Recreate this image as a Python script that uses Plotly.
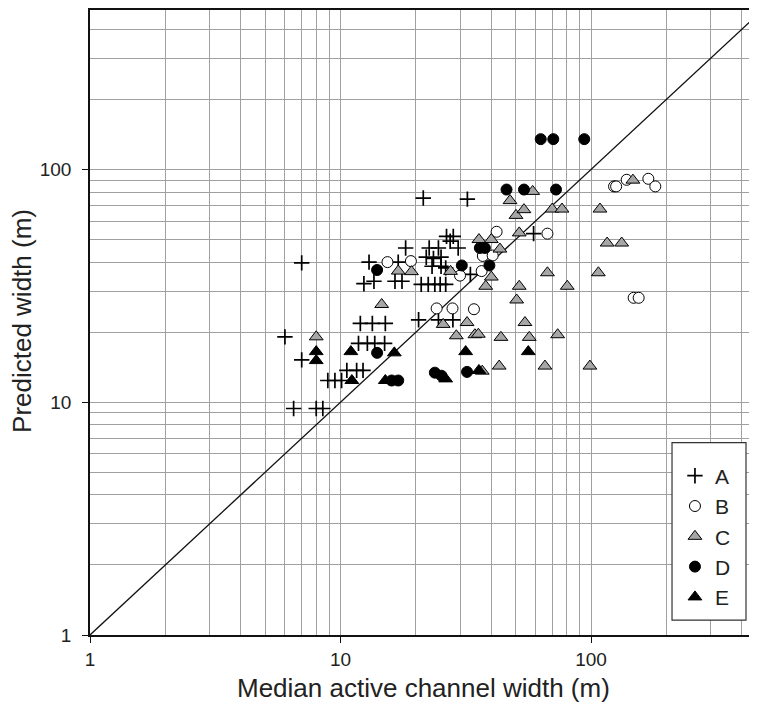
import plotly.graph_objects as go

# ---- data ----
a_x = [6.0, 7.0, 7.0, 6.5, 8.0, 8.5, 8.9, 9.5, 10.1, 10.6, 11.6, 12.3, 11.8, 12.8, 13.7, 15.0,
       12.0, 13.4, 15.1, 12.4, 13.6, 16.5, 17.6, 13.0, 17.0, 18.2, 20.5, 24.6, 28.1, 21.4, 32.1,
       22.6, 24.6, 26.5, 28.2, 27.4, 29.5, 22.0, 23.5, 25.2, 23.2, 25.2, 26.3, 21.0, 22.4, 23.8,
       25.0, 26.3, 33.0, 59.0]
a_y = [19.1, 39.7, 15.2, 9.4, 9.4, 9.4, 12.4, 12.4, 12.4, 13.7, 13.7, 13.7, 17.9, 17.9, 17.9, 17.9,
       21.8, 21.8, 21.8, 32.3, 33.1, 33.1, 33.1, 40.0, 40.0, 46.0, 22.6, 22.6, 22.6, 75.4, 74.6,
       46.0, 46.0, 51.6, 51.6, 49.2, 46.0, 42.0, 41.5, 42.0, 38.4, 38.4, 37.8, 32.1, 32.1, 32.1,
       32.1, 32.1, 35.4, 53.0]

b_x = [15.4, 19.1, 24.2, 28.0, 34.1, 30.0, 36.6, 37.0, 40.5, 42.0, 67.0, 123.6, 126.0, 138.8,
       169.4, 180.6, 148.0, 155.0]
b_y = [40.0, 40.4, 25.3, 25.3, 25.1, 35.0, 36.6, 42.5, 42.7, 54.0, 53.0, 84.6, 84.6, 90.3,
       91.2, 84.6, 28.1, 28.1]

c_x = [8.0, 14.6, 17.0, 19.2, 25.7, 32.0, 29.0, 34.4, 35.5, 27.5, 35.7, 40.0, 43.3, 40.0, 38.0,
       51.7, 50.5, 80.4, 54.5, 43.7, 56.7, 73.6, 43.0, 65.5, 99.0, 36.8, 47.5, 58.5, 50.2, 54.0,
       51.7, 70.0, 76.6, 108.6, 147.0, 116.0, 132.6, 67.0, 107.0]
c_y = [19.1, 26.3, 36.6, 36.4, 21.6, 22.0, 19.3, 19.5, 19.6, 36.5, 50.0, 50.0, 45.5, 34.5, 31.5,
       31.5, 27.5, 31.5, 22.0, 19.0, 19.0, 19.5, 14.3, 14.3, 14.3, 13.6, 73.5, 80.5, 63.5, 67.2,
       53.4, 67.6, 67.6, 67.6, 90.0, 48.3, 48.3, 36.0, 36.0]

d_x = [14.0, 14.0, 16.0, 17.0, 23.8, 25.3, 32.0, 30.5, 39.3, 36.0, 37.7, 46.0, 54.0, 72.5,
       63.0, 70.7, 94.0]
d_y = [37.0, 16.3, 12.4, 12.4, 13.4, 13.0, 13.5, 38.7, 38.7, 46.0, 46.0, 82.0, 82.0, 82.0,
       135.0, 135.0, 135.0]

e_x = [8.0, 8.0, 11.0, 11.1, 15.1, 16.4, 26.3, 31.6, 35.7, 56.2]
e_y = [16.5, 15.1, 16.5, 12.4, 12.4, 16.3, 12.6, 16.5, 13.7, 16.5]

line_x = [1, 500]
line_y = [1, 500]

x_major = [1, 10, 100]
y_major = [1, 10, 100]
minor_vals = [2, 3, 4, 5, 6, 7, 8, 9, 20, 30, 40, 50, 60, 70, 80, 90, 200, 300, 400]

FONT = "Liberation Sans, Arial, sans-serif"
GRID = "#a0a0a0"
TXT = "#222222"

fig = go.Figure()
fig.add_trace(go.Scatter(x=line_x, y=line_y, mode="lines",
                         line=dict(color="#111111", width=1.3), showlegend=False,
                         hoverinfo="skip"))
fig.add_trace(go.Scatter(x=a_x, y=a_y, mode="markers", name="A",
                         marker=dict(symbol="cross-thin", size=11, color="black",
                                     line=dict(color="black", width=1.7))))
fig.add_trace(go.Scatter(x=b_x, y=b_y, mode="markers", name="B",
                         marker=dict(symbol="circle", size=11, color="white",
                                     line=dict(color="black", width=1))))
fig.add_trace(go.Scatter(x=c_x, y=c_y, mode="markers", name="C",
                         marker=dict(symbol="triangle-up", size=12, color="#a6a6a6",
                                     line=dict(color="black", width=1))))
fig.add_trace(go.Scatter(x=d_x, y=d_y, mode="markers", name="D",
                         marker=dict(symbol="circle", size=11, color="black",
                                     line=dict(color="black", width=1))))
fig.add_trace(go.Scatter(x=e_x, y=e_y, mode="markers", name="E",
                         marker=dict(symbol="triangle-up", size=12, color="black",
                                     line=dict(color="black", width=1))))

axis_common = dict(
    type="log", showgrid=True, gridcolor=GRID, gridwidth=1,
    showline=True, linecolor="#111111", linewidth=1.5,
    ticks="outside", ticklen=6, tickcolor="#111111", tickwidth=1.2,
    tickfont=dict(family=FONT, size=19, color=TXT),
    zeroline=False,
    minor=dict(tickvals=minor_vals, showgrid=True, gridcolor=GRID, gridwidth=1, ticks=""),
)

fig.update_xaxes(**axis_common, range=[0, 2.6627], tickvals=x_major,
                 ticktext=[str(v) for v in x_major], mirror=True, ticklabelstandoff=0)
fig.update_yaxes(**axis_common, range=[0, 2.6852], tickvals=y_major,
                 ticktext=[str(v) for v in y_major], mirror=False, ticklabelstandoff=7)

fig.update_layout(
    width=749, height=698,
    margin=dict(l=82, r=0, t=0, b=71),
    paper_bgcolor="white", plot_bgcolor="white",
    font=dict(family=FONT, color=TXT),
    legend=dict(x=0.877, y=0.2871, xanchor="left", yanchor="top",
                bgcolor="rgba(0,0,0,0)", borderwidth=0,
                font=dict(family=FONT, size=21, color=TXT),
                itemwidth=30),
    shapes=[
        dict(type="rect", xref="paper", yref="paper",
             x0=0.8726, x1=0.9835, y0=0.0239, y1=0.3078,
             line=dict(color="#333333", width=1.2), fillcolor="white", layer="above"),
    ],
    annotations=[
        dict(text="Median active channel width (m)", xref="paper", yref="paper",
             x=0.5, y=-0.0845, xanchor="center", yanchor="middle", showarrow=False,
             font=dict(family=FONT, size=26, color=TXT)),
        dict(text="Predicted width (m)", xref="paper", yref="paper",
             x=-0.102, y=0.5024, xanchor="center", yanchor="middle", showarrow=False,
             textangle=-90, font=dict(family=FONT, size=26, color=TXT)),
    ],
)

fig.write_html("out.html")
